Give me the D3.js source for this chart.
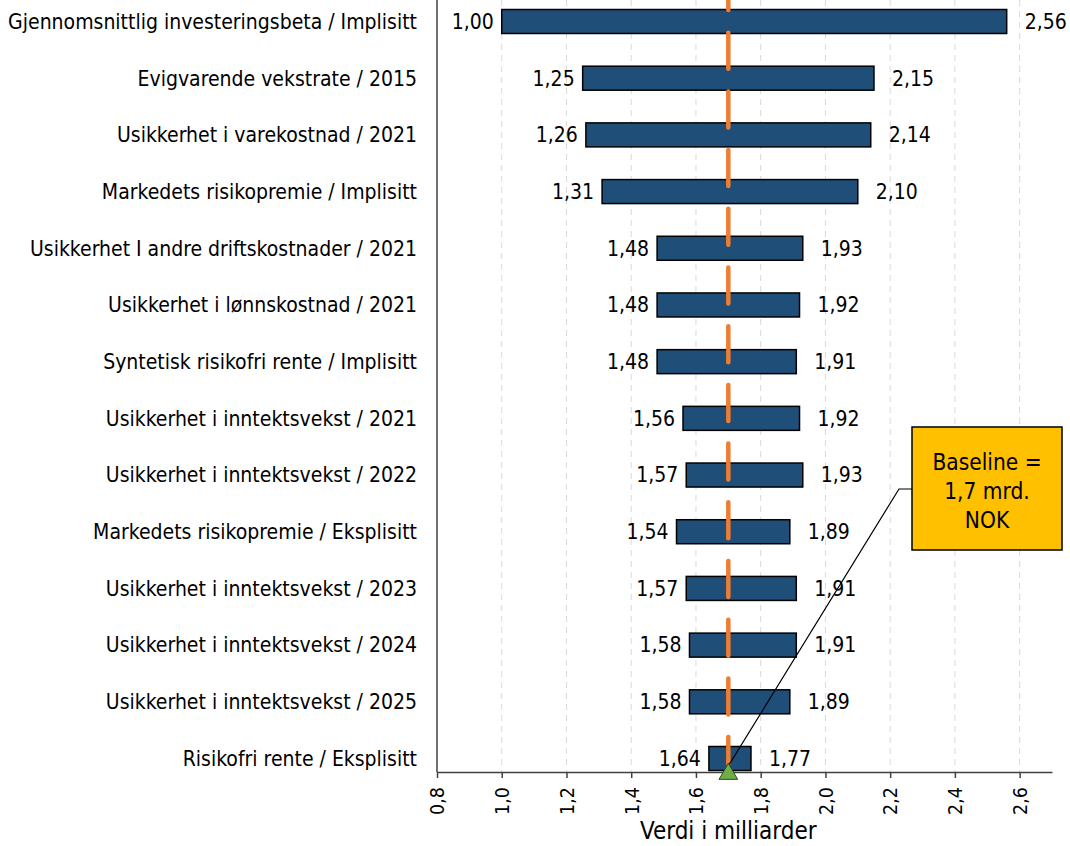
<!DOCTYPE html>
<html lang="no">
<head>
<meta charset="utf-8">
<title>Tornadodiagram – verdi i milliarder</title>
<script src="https://cdn.jsdelivr.net/npm/d3@7/dist/d3.min.js"></script>
<style>
  html, body { margin: 0; padding: 0; background: #ffffff; }
  svg { display: block; font-family: "DejaVu Sans Condensed", "DejaVu Sans", sans-serif; }
</style>
</head>
<body>
<svg id="chart" width="1070" height="846"></svg>
<script>
// Sensitivity drivers, top to bottom
const categories = [
  "Gjennomsnittlig investeringsbeta / Implisitt",
  "Evigvarende vekstrate / 2015",
  "Usikkerhet i varekostnad / 2021",
  "Markedets risikopremie / Implisitt",
  "Usikkerhet I andre driftskostnader / 2021",
  "Usikkerhet i lønnskostnad / 2021",
  "Syntetisk risikofri rente / Implisitt",
  "Usikkerhet i inntektsvekst / 2021",
  "Usikkerhet i inntektsvekst / 2022",
  "Markedets risikopremie / Eksplisitt",
  "Usikkerhet i inntektsvekst / 2023",
  "Usikkerhet i inntektsvekst / 2024",
  "Usikkerhet i inntektsvekst / 2025",
  "Risikofri rente / Eksplisitt"
];
// Low and high outcome (billions NOK) for each driver
const lowValues  = [1.00, 1.25, 1.26, 1.31, 1.48, 1.48, 1.48, 1.56, 1.57, 1.54, 1.57, 1.58, 1.58, 1.64];
const highValues = [2.56, 2.15, 2.14, 2.10, 1.93, 1.92, 1.91, 1.92, 1.93, 1.89, 1.91, 1.91, 1.89, 1.77];
const baselineValue = 1.7;
const xDomain = [0.8, 2.7];
const xTicks = [0.8, 1.0, 1.2, 1.4, 1.6, 1.8, 2.0, 2.2, 2.4, 2.6];
const axisTitle = "Verdi i milliarder";
const calloutLines = ["Baseline =", "1,7 mrd.", "NOK"];

const rows = categories.map((name, i) => ({ name, low: lowValues[i], high: highValues[i] }));

const no = d3.formatLocale({ decimal: ",", thousands: " ", grouping: [3], currency: ["", " kr"] });
const fmtValue = no.format(".2f");
const fmtTick = no.format(".1f");

const svg = d3.select("#chart");
const plot = { left: 437, right: 1052, top: 0, bottom: 772 };

const x = d3.scaleLinear().domain(xDomain).range([plot.left, plot.right]);
const y = d3.scalePoint().domain(categories).range([21.5, 758.5]);
const barH = 24;
const fontSize = 21;

// Dashed vertical gridlines
svg.append("g")
  .selectAll("line")
  .data(xTicks.slice(1))
  .join("line")
  .attr("x1", d => x(d)).attr("x2", d => x(d))
  .attr("y1", plot.top).attr("y2", plot.bottom)
  .attr("stroke", "#d9d9d9")
  .attr("stroke-width", 1)
  .attr("stroke-dasharray", "6,5");

// Bars from low to high outcome
svg.append("g")
  .selectAll("rect")
  .data(rows)
  .join("rect")
  .attr("x", d => x(d.low))
  .attr("y", d => y(d.name) - barH / 2)
  .attr("width", d => x(d.high) - x(d.low))
  .attr("height", barH)
  .attr("fill", "#1f4e79")
  .attr("stroke", "#000000")
  .attr("stroke-width", 1.5);

// Baseline marker line
svg.append("line")
  .attr("x1", x(baselineValue)).attr("x2", x(baselineValue))
  .attr("y1", plot.top).attr("y2", plot.bottom - 8)
  .attr("stroke", "#ed7d31")
  .attr("stroke-width", 4.5)
  .attr("stroke-linecap", "round")
  .attr("stroke-dasharray", "36,22.7")
  .attr("stroke-dashoffset", 26);

// Value labels
const labels = svg.append("g").attr("font-size", fontSize).attr("fill", "#000");
labels.selectAll("text.low")
  .data(rows)
  .join("text")
  .attr("class", "low")
  .attr("x", d => x(d.low) - 8)
  .attr("y", d => y(d.name))
  .attr("dy", "0.35em")
  .attr("text-anchor", "end")
  .text(d => fmtValue(d.low));
labels.selectAll("text.high")
  .data(rows)
  .join("text")
  .attr("class", "high")
  .attr("x", d => x(d.high) + 18)
  .attr("y", d => y(d.name))
  .attr("dy", "0.35em")
  .attr("text-anchor", "start")
  .text(d => fmtValue(d.high));

// Category labels
svg.append("g")
  .attr("font-size", fontSize)
  .selectAll("text")
  .data(categories)
  .join("text")
  .attr("x", plot.left - 20)
  .attr("y", d => y(d))
  .attr("dy", "0.35em")
  .attr("text-anchor", "end")
  .attr("fill", "#000")
  .text(d => d);

// Left axis line
svg.append("line")
  .attr("x1", plot.left).attr("x2", plot.left)
  .attr("y1", plot.top).attr("y2", plot.bottom)
  .attr("stroke", "#404040").attr("stroke-width", 1.5);

// Bottom axis
const xAxis = d3.axisBottom(x)
  .tickValues(xTicks)
  .tickFormat(fmtTick)
  .tickSize(6)
  .tickSizeOuter(0);
const gx = svg.append("g")
  .attr("transform", `translate(0,${plot.bottom})`)
  .call(xAxis);
gx.attr("font-family", null).attr("font-size", null);
gx.select(".domain").attr("stroke", "#404040").attr("stroke-width", 1.5);
gx.selectAll(".tick line").attr("stroke", "#404040").attr("stroke-width", 1.5);
gx.selectAll(".tick text")
  .attr("font-size", 19.5)
  .attr("fill", "#000")
  .attr("transform", "rotate(-90)")
  .attr("text-anchor", "end")
  .attr("x", -15)
  .attr("y", 0)
  .attr("dy", "0.35em");

// Axis title
svg.append("text")
  .attr("x", x(baselineValue))
  .attr("y", 839)
  .attr("text-anchor", "middle")
  .attr("font-size", 24)
  .attr("fill", "#000")
  .text(axisTitle);

// Callout with leader line to the baseline marker
const box = { x: 912, y: 427, w: 150, h: 123 };
const elbow = { x: 899, y: 489 };
svg.append("polyline")
  .attr("points", [[box.x, elbow.y], [elbow.x, elbow.y], [x(baselineValue), plot.bottom - 6]].map(p => p.join(",")).join(" "))
  .attr("fill", "none")
  .attr("stroke", "#000")
  .attr("stroke-width", 1.2);
svg.append("rect")
  .attr("x", box.x).attr("y", box.y)
  .attr("width", box.w).attr("height", box.h)
  .attr("fill", "#ffc000")
  .attr("stroke", "#000")
  .attr("stroke-width", 1.5);
svg.append("text")
  .attr("text-anchor", "middle")
  .attr("font-size", 22.5)
  .attr("fill", "#000")
  .selectAll("tspan")
  .data(calloutLines)
  .join("tspan")
  .attr("x", box.x + box.w / 2)
  .attr("y", (d, i) => 470 + i * 29)
  .text(d => d);

// Baseline marker on the axis
const tri = d3.symbol().type(d3.symbolTriangle).size(150);
svg.append("path")
  .attr("d", tri())
  .attr("transform", `translate(${x(baselineValue)},${plot.bottom + 2})`)
  .attr("fill", "#70ad47")
  .attr("stroke", "#2e4a1e")
  .attr("stroke-width", 1);
</script>
</body>
</html>
